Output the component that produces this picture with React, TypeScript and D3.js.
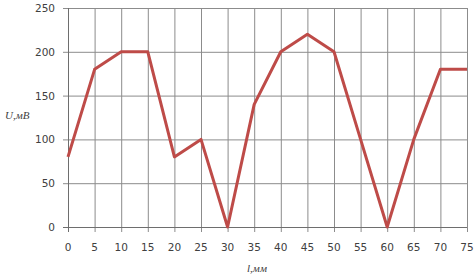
import React from "react";
import { scaleLinear, line } from "d3";

const xValues = [0, 5, 10, 15, 20, 25, 30, 35, 40, 45, 50, 55, 60, 65, 70, 75];
const uValues = [80, 180, 200, 200, 80, 100, 0, 140, 200, 220, 200, 100, 0, 100, 180, 180];
const yTicks = [0, 50, 100, 150, 200, 250];
const xLabel = "l,мм";
const yLabel = "U,мВ";

const W = 476;
const H = 277;
const left = 68;
const right = 467;
const top = 8;
const bottom = 227;

const App = () => {
  const x = scaleLinear().domain([0, 75]).range([left, right]);
  const y = scaleLinear().domain([0, 250]).range([bottom, top]);
  const path = line<number>()
    .x((d, i) => x(xValues[i]))
    .y((d) => y(d))(uValues);

  return (
    <svg
      width={W}
      height={H}
      style={{ position: "absolute", left: 0, top: 0, background: "#fff" }}
      fontFamily="DejaVu Sans, Verdana, sans-serif"
    >
      {/* grid */}
      {xValues.map((v) => (
        <line key={"gx" + v} x1={x(v) + 0.5} x2={x(v) + 0.5} y1={top} y2={bottom + 5} stroke="#8c8c8c" strokeWidth={1} />
      ))}
      {yTicks.map((v) => (
        <line key={"gy" + v} x1={left - 5} x2={right} y1={y(v) + 0.5} y2={y(v) + 0.5} stroke="#8c8c8c" strokeWidth={1} />
      ))}
      <line x1={left + 0.5} x2={left + 0.5} y1={top} y2={bottom + 5} stroke="#6e6e6e" />
      <line x1={left - 5} x2={right} y1={bottom + 0.5} y2={bottom + 0.5} stroke="#6e6e6e" />

      {/* ticks labels */}
      {yTicks.map((v) => (
        <text key={"ty" + v} x={55} y={y(v) + 4} textAnchor="end" fontSize={10.5} fill="#404040">
          {v}
        </text>
      ))}
      {xValues.map((v) => (
        <text key={"tx" + v} x={x(v)} y={251} textAnchor="middle" fontSize={10.5} fill="#404040">
          {v}
        </text>
      ))}

      <path d={path ?? ""} fill="none" stroke="#be4b48" strokeWidth={3} strokeLinejoin="round" />

      <text x={5} y={119} fontSize={11} fontStyle="italic" fontFamily="Liberation Serif, serif" fill="#404040">
        {yLabel}
      </text>
      <text x={257} y={272} textAnchor="middle" fontSize={11} fontStyle="italic" fontFamily="Liberation Serif, serif" fill="#404040">
        {xLabel}
      </text>
    </svg>
  );
};

export default App;
